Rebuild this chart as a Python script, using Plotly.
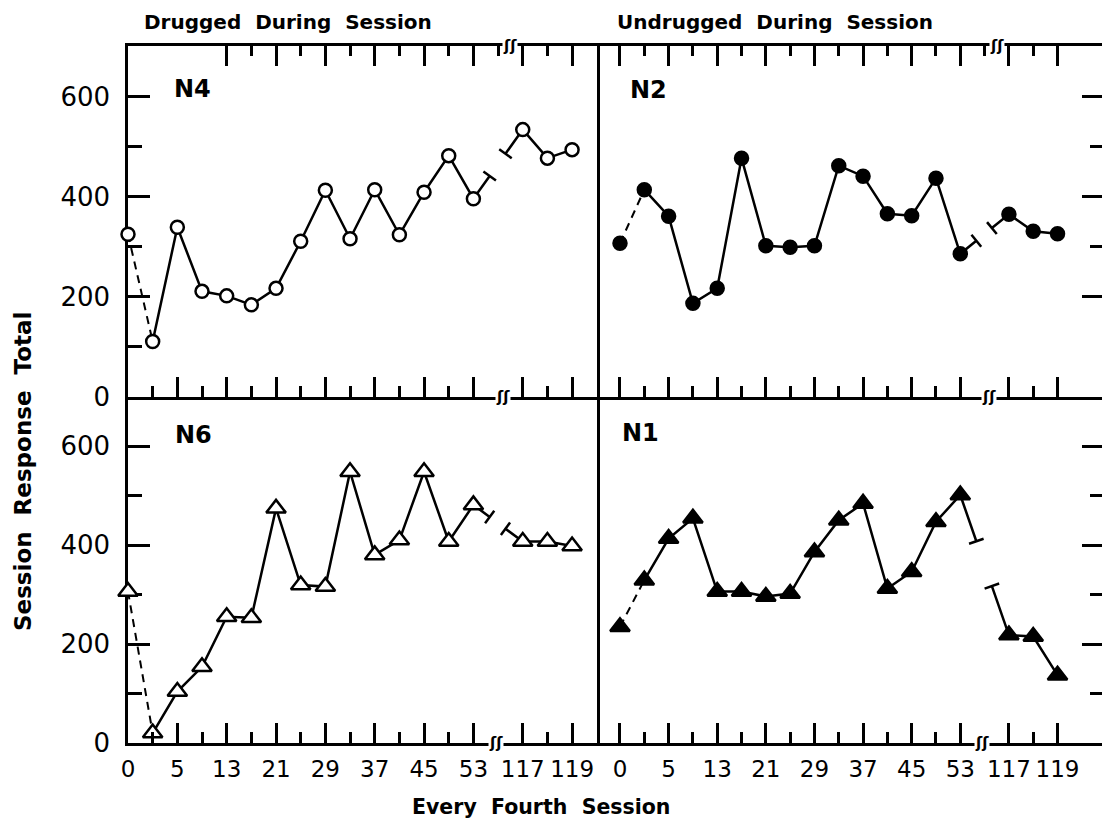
import math
import plotly.graph_objects as go

W, H = 1102, 820

# ---- data -------------------------------------------------------------
# x positions: one slot per plotted session (every fourth session); slot 15 is the axis break
pos = [0, 1, 2, 3, 4, 5, 6, 7, 8, 9, 10, 11, 12, 13, 14, 16, 17, 18]
tick_pos = [0, 2, 4, 6, 8, 10, 12, 14, 16, 18]
tick_labels = ["0", "5", "13", "21", "29", "37", "45", "53", "117", "119"]
y_ticks = [0, 200, 400, 600]
y_minor = [100, 300, 500]

n4 = [325, 111, 339, 211, 202, 184, 217, 311, 413, 316, 414, 324, 409, 482, 396, 534, 477, 494]
n2 = [307, 414, 361, 187, 217, 477, 302, 299, 302, 462, 441, 366, 362, 437, 286, 365, 331, 326]
n6 = [306, 20, 104, 154, 255, 253, 474, 319, 316, 548, 380, 410, 548, 407, 481, 407, 407, 398]
n1 = [235, 329, 413, 454, 306, 306, 296, 302, 386, 450, 484, 312, 346, 447, 501, 218, 215, 137]


def sx(px):
    return px / W


def sy(py):
    return 1 - py / H


# ---- geometry -----------------------------------------------------------
xL_dom = [sx(128), sx(597)]
xR_dom = [sx(597), 1.0]
yT_dom = [sy(397), sy(46)]
yB_dom = [sy(743), sy(397)]
xL_rng = [0, 19.01]
xR_rng = [-0.946, 19.83]
yT_rng = [0, 701]
yB_rng = [0, 699]

FONT = "DejaVu Sans"
LW = 2.5

fig = go.Figure()


def px_per(dom, rng, size):
    return (dom[1] - dom[0]) * size / (rng[1] - rng[0])


def add_panel(vals, xa, ya, xdom, xrng, ydom, yrng, symbol, fill):
    pxi = px_per(xdom, xrng, W)
    pxv = px_per(ydom, yrng, H)
    common = dict(xaxis=xa, yaxis=ya, showlegend=False, cliponaxis=False, hoverinfo="skip")
    # dashed first segment
    fig.add_trace(go.Scatter(x=pos[0:2], y=vals[0:2], mode="lines",
                             line=dict(color="black", width=2, dash="8px,6px"), **common))
    i14 = pos.index(14)
    i16 = pos.index(16)
    x14, v14 = pos[i14], vals[i14]
    x16, v16 = pos[i16], vals[i16]
    f1, f2 = 0.33, 0.35
    s1 = (x14 + f1 * (x16 - x14), v14 + f1 * (v16 - v14))
    s2 = (x16 - f2 * (x16 - x14), v16 - f2 * (v16 - v14))
    fig.add_trace(go.Scatter(x=pos[1:i14 + 1] + [s1[0]], y=vals[1:i14 + 1] + [s1[1]], mode="lines",
                             line=dict(color="black", width=LW), **common))
    fig.add_trace(go.Scatter(x=[s2[0]] + pos[i16:], y=[s2[1]] + vals[i16:], mode="lines",
                             line=dict(color="black", width=LW), **common))
    theta = math.degrees(math.atan2((v16 - v14) * pxv, (x16 - x14) * pxi))
    fig.add_trace(go.Scatter(x=[s1[0], s2[0]], y=[s1[1], s2[1]], mode="markers",
                             marker=dict(symbol="line-ns", size=11, angle=-theta,
                                         line=dict(color="black", width=LW)), **common))
    fig.add_trace(go.Scatter(x=pos, y=vals, mode="markers",
                             marker=dict(symbol=symbol, size=13 if "circle" in symbol else 17,
                                         color="black" if fill else "white",
                                         line=dict(color="black", width=LW)), **common))


add_panel(n4, "x", "y", xL_dom, xL_rng, yT_dom, yT_rng, "circle", False)
add_panel(n2, "x2", "y2", xR_dom, xR_rng, yT_dom, yT_rng, "circle", True)
add_panel(n6, "x3", "y3", xL_dom, xL_rng, yB_dom, yB_rng, "triangle-up", False)
add_panel(n1, "x4", "y4", xR_dom, xR_rng, yB_dom, yB_rng, "triangle-up", True)

odd_all = [1, 3, 5, 7, 9, 11, 13, 17]
odd_top = [1, 3, 5, 7, 9, 11, 13, 15, 17]


def xax(dom, rng, anchor, labels):
    return dict(domain=dom, range=rng, anchor=anchor, showgrid=False, zeroline=False,
                showline=True, linecolor="black", linewidth=LW, automargin=False,
                ticks="inside", tickvals=tick_pos, ticktext=tick_labels, ticklen=20,
                tickwidth=LW, tickcolor="black", tickangle=0,
                minor=dict(tickvals=odd_all, ticks="inside", ticklen=11, tickwidth=LW, tickcolor="black"),
                showticklabels=labels, tickfont=dict(family=FONT, size=23, color="black"),
                ticklabelstandoff=4, fixedrange=True)


def topax(over, anchor, rng, majors, minors):
    return dict(overlaying=over, side="top", anchor=anchor, range=rng, showgrid=False, zeroline=False,
                showline=True, linecolor="black", linewidth=LW, ticks="inside", automargin=False,
                tickvals=majors, ticklen=20, tickwidth=LW, tickcolor="black",
                minor=dict(tickvals=minors, ticks="inside", ticklen=10, tickwidth=LW, tickcolor="black"),
                showticklabels=False, fixedrange=True)


def yax_left(dom, rng, anchor):
    return dict(domain=dom, range=rng, anchor=anchor, showgrid=False, zeroline=False,
                showline=True, mirror=True, linecolor="black", linewidth=LW, automargin=False,
                ticks="inside", tickvals=y_ticks, ticklen=22, tickwidth=LW, tickcolor="black",
                minor=dict(tickvals=y_minor, ticks="inside", ticklen=14, tickwidth=LW, tickcolor="black"),
                tickfont=dict(family=FONT, size=26, color="black"), ticklabelstandoff=10,
                layer="below traces", fixedrange=True)


def yax_right(dom, rng, anchor, majors, minors):
    return dict(domain=dom, range=rng, anchor=anchor, side="right", showgrid=False, zeroline=False,
                showline=False, ticks="inside", tickvals=majors, ticklen=20, tickwidth=LW,
                tickcolor="black", automargin=False,
                minor=dict(tickvals=minors, ticks="inside", ticklen=12, tickwidth=LW, tickcolor="black"),
                showticklabels=False, fixedrange=True)


fig.update_layout(
    template="none",
    width=W, height=H, autosize=False,
    margin=dict(l=0, r=0, t=0, b=0, pad=0),
    paper_bgcolor="white", plot_bgcolor="white",
    xaxis=xax(xL_dom, xL_rng, "y", False),
    xaxis2=xax(xR_dom, xR_rng, "y2", False),
    xaxis3=xax(xL_dom, xL_rng, "y3", True),
    xaxis4=xax(xR_dom, xR_rng, "y4", True),
    xaxis5=topax("x", "y", xL_rng, [4, 6, 8, 10, 12, 14, 16, 18], [5, 7, 9, 11, 13, 15, 17]),
    xaxis6=topax("x2", "y2", xR_rng, tick_pos, odd_top),
    yaxis=yax_left(yT_dom, yT_rng, "x"),
    yaxis3=yax_left(yB_dom, yB_rng, "x3"),
    yaxis2=yax_right(yT_dom, yT_rng, "x2", [200, 400, 600], [300, 500]),
    yaxis4=yax_right(yB_dom, yB_rng, "x4", [200, 400, 600], [100, 300, 500]),
)

# invisible traces so the overlay top axes are rendered
fig.add_trace(go.Scatter(x=[None], y=[None], xaxis="x5", yaxis="y", showlegend=False))
fig.add_trace(go.Scatter(x=[None], y=[None], xaxis="x6", yaxis="y2", showlegend=False))


def ann(text, x, y, xanchor="center", size=23, angle=0):
    fig.add_annotation(text=text, x=sx(x), y=sy(y), xref="paper", yref="paper",
                       xanchor=xanchor, yanchor="middle", showarrow=False, textangle=angle,
                       font=dict(family=FONT, size=size, color="black"))


ann("<b>Drugged  During  Session</b>", 142, 22, "left", 20)
ann("<b>Undrugged  During  Session</b>", 615, 22, "left", 20)
ann("<b>N4</b>", 192, 89, size=24)
ann("<b>N2</b>", 648, 90, size=24)
ann("<b>N6</b>", 193, 435, size=24)
ann("<b>N1</b>", 640, 433, size=24)
ann("<b>Session  Response  Total</b>", 23, 472, "center", 23, -90)
ann("<b>Every  Fourth  Session</b>", 541, 807, "center", 20.5)

# axis break marks
breaks = [("x", 15.5, 46), ("x", 15.2, 397), ("x", 14.9, 743),
          ("x2", 15.5, 46), ("x2", 15.2, 397), ("x2", 14.9, 743)]
for xr, bx, by in breaks:
    fig.add_annotation(text="<b>ʃʃ</b>", x=bx, xref=xr, y=sy(by), yref="paper",
                       showarrow=False, xanchor="center", yanchor="middle",
                       bgcolor="white", borderpad=0,
                       font=dict(family="DejaVu Sans", size=15, color="black"))

fig.write_html("out.html", config={"displayModeBar": False},
               post_script="document.body.style.margin='0px';")
